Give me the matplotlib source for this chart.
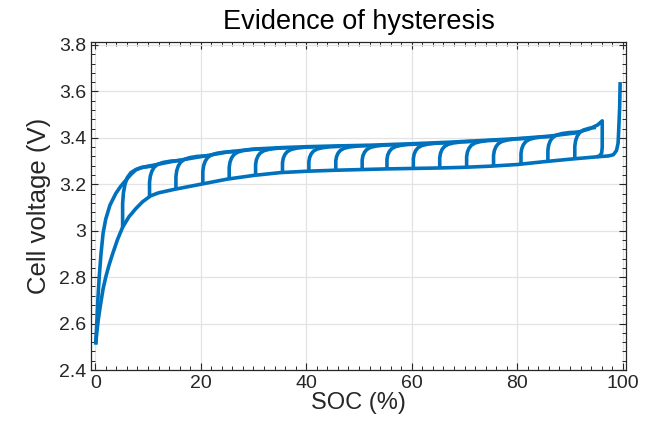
import numpy as np
import matplotlib
matplotlib.use('Agg')
import matplotlib.pyplot as plt
from matplotlib.ticker import MultipleLocator, FormatStrFormatter

plt.rcParams['font.family'] = ['Liberation Sans', 'DejaVu Sans']

# first charge from empty, then the charge branch up to ~96 %, then the drop
charge_soc = [0.1, 0.3, 0.5, 0.76, 1.1, 1.5, 2.0, 2.8, 3.9, 4.8, 5.8, 6.8, 7.7, 8.7, 11, 14.6, 20.3, 25.4,
              30.4, 35.5, 40.5, 45.6, 51.9, 59.5, 67, 73, 79.7, 86, 91, 93.6, 95.2, 96.1, 96.1, 96.0, 95.6, 95.0]
charge_v = [2.51, 2.6, 2.7, 2.8, 2.9, 2.99, 3.05, 3.11, 3.16, 3.19, 3.217, 3.243, 3.262, 3.272, 3.282, 3.298,
            3.32, 3.34, 3.352, 3.358, 3.362, 3.365, 3.368, 3.374, 3.381, 3.388, 3.396, 3.407, 3.421, 3.438,
            3.455, 3.473, 3.36, 3.335, 3.322, 3.318]

# discharge branch, from full down to empty
dis_soc = [99.5, 99.4, 99.2, 99.1, 98.8, 98.2, 97.3, 95, 90, 85, 80, 75, 70, 65, 60, 55, 50, 45, 40, 35,
           30, 25, 20, 15, 12, 10.5, 9, 7.7, 6.4, 5.2, 4.2, 3.3, 2.6, 2.0, 1.5, 1.0, 0.6, 0.3, 0.1]
dis_v = [3.64, 3.53, 3.42, 3.376, 3.345, 3.327, 3.322, 3.318, 3.308, 3.297, 3.285, 3.278, 3.273, 3.27, 3.268,
         3.266, 3.263, 3.26, 3.256, 3.25, 3.238, 3.222, 3.20, 3.178, 3.163, 3.15, 3.125, 3.095, 3.06, 3.015,
         2.96, 2.9, 2.85, 2.80, 2.75, 2.68, 2.62, 2.56, 2.51]

# partial charges: start SOC, start voltage (discharge branch), charge-branch voltage ~6 % later
hook_soc = [5.2, 10.3, 15.3, 20.4, 25.4, 30.4, 35.5, 40.5, 45.6, 50.6, 55.3, 60.3, 65.3, 70.4, 75.5, 80.7, 85.8, 90.9]
hook_low = [3.015, 3.15, 3.176, 3.202, 3.223, 3.239, 3.25, 3.256, 3.26, 3.263, 3.266, 3.268, 3.27, 3.273,
            3.278, 3.286, 3.298, 3.31]
hook_top = [3.283, 3.305, 3.325, 3.343, 3.354, 3.359, 3.363, 3.365, 3.368, 3.372, 3.375, 3.38, 3.386, 3.392,
            3.399, 3.408, 3.427, 3.45]
# shape of the hook: SOC offset and fraction of the rise
hook_dsoc = [0, 0, 0.15, 0.45, 0.9, 1.6, 2.6, 4.0, 6.0]
hook_frac = [0, 0.38, 0.55, 0.69, 0.8, 0.88, 0.93, 0.965, 0.985]

blue = '#0072BD'
txt = '#262626'

fig = plt.figure(figsize=(6.47, 4.28), dpi=100)
ax = fig.add_axes([0.1406, 0.1355, 0.9675 - 0.1406, 0.9026 - 0.1355])

lw = 2.6
ax.plot(dis_soc, dis_v, color=blue, lw=lw, solid_capstyle='butt')
ax.plot(charge_soc, charge_v, color=blue, lw=lw, solid_capstyle='butt')
for s0, lo, hi in zip(hook_soc, hook_low, hook_top):
    pts = [(s0 + d, lo + f * (hi - lo)) for d, f in zip(hook_dsoc, hook_frac) if s0 + d <= 96.0]
    xs, ys = zip(*pts)
    ax.plot(xs, ys, color=blue, lw=lw, solid_capstyle='butt')

ax.set_xlim(-0.8, 100.6)
ax.set_ylim(2.4, 3.814)
ax.xaxis.set_major_locator(MultipleLocator(20))
ax.xaxis.set_minor_locator(MultipleLocator(2))
ax.yaxis.set_major_locator(MultipleLocator(0.2))
ax.yaxis.set_minor_locator(MultipleLocator(0.04))
ax.yaxis.set_major_formatter(FormatStrFormatter('%g'))

ax.grid(True, which='major', color='#e3e3e3', lw=0.9)
ax.set_axisbelow(True)
ax.tick_params(which='both', direction='in', top=True, right=True, colors=txt, labelsize=14)
ax.tick_params(which='major', length=5, width=0.8)
ax.tick_params(which='minor', length=3, width=0.7)
for sp in ax.spines.values():
    sp.set_color(txt)
    sp.set_linewidth(0.9)

ax.set_xlabel('SOC (%)', fontsize=17, color=txt, labelpad=0)
ax.set_ylabel('Cell voltage (V)', fontsize=18.5, color=txt, labelpad=6)
ax.set_title('Evidence of hysteresis', fontsize=19.5, color='black', pad=9)

fig.savefig('out.png', dpi=100)
